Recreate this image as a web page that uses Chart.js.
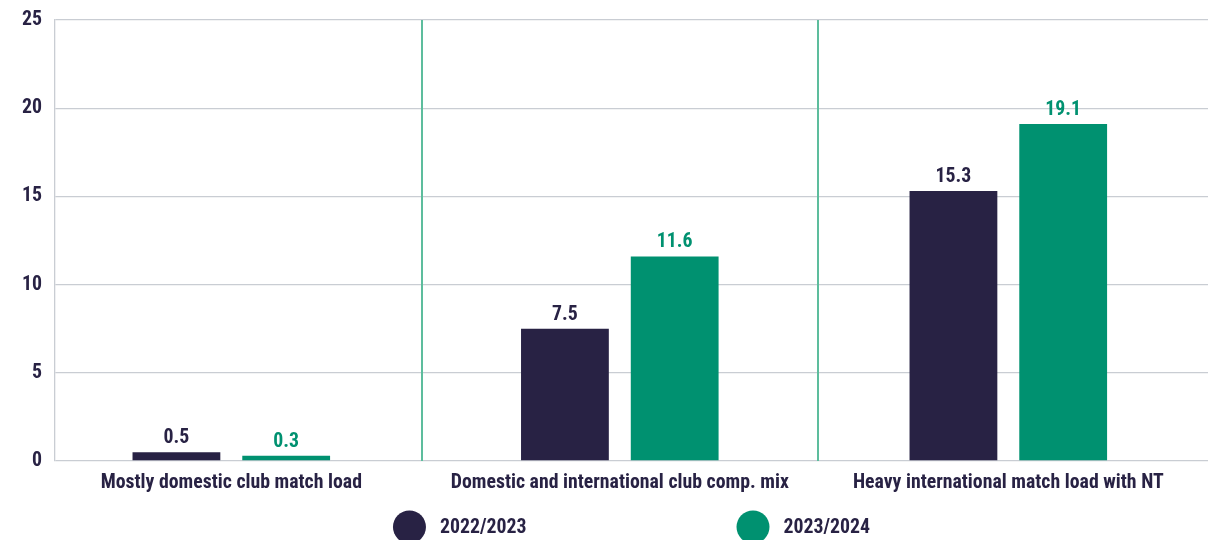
<!DOCTYPE html>
<html>
<head>
<meta charset="utf-8">
<script src="https://cdn.jsdelivr.net/npm/chart.js@4.4.1/dist/chart.umd.min.js"></script>
<style>
  html, body { margin: 0; padding: 0; background: #ffffff; }
  #wrap { width: 1208px; height: 540px; position: relative; }
</style>
</head>
<body>
<div id="wrap"><canvas id="chart"></canvas></div>
<script>
// Match-load profiles and average values per season
const categories = [
  'Mostly domestic club match load',
  'Domestic and international club comp. mix',
  'Heavy international match load with NT'
];
const seasons = ['2022/2023', '2023/2024'];
const values2022 = [0.5, 7.5, 15.3];
const values2023 = [0.3, 11.6, 19.1];
const yTicks = [0, 5, 10, 15, 20, 25];

const NAVY = '#282244';
const GREEN = '#009170';
const DIVIDER = '#5dbd9d';
const GRID = '#c9cdd3';
const FONT = "'Roboto Condensed', 'Open Sans Condensed', 'DejaVu Sans Condensed', sans-serif";
const FSIZE = 19.8;

// Value labels above each bar, coloured like their series
const valueLabels = {
  id: 'valueLabels',
  afterDatasetsDraw(chart) {
    const ctx = chart.ctx;
    ctx.save();
    ctx.font = 'bold ' + FSIZE + 'px ' + FONT;
    ctx.textAlign = 'center';
    ctx.textBaseline = 'alphabetic';
    chart.data.datasets.forEach((ds, di) => {
      const meta = chart.getDatasetMeta(di);
      ctx.fillStyle = ds.labelColor;
      meta.data.forEach((bar, i) => {
        ctx.fillText(ds.data[i].y.toFixed(1), bar.x, bar.y - 9);
      });
    });
    ctx.restore();
  }
};

// Thin vertical rules separating the three groups
const groupDividers = {
  id: 'groupDividers',
  beforeDatasetsDraw(chart, args, opts) {
    const { ctx, chartArea, scales } = chart;
    ctx.save();
    ctx.strokeStyle = DIVIDER;
    ctx.lineWidth = 2;
    opts.at.forEach(v => {
      const x = Math.round(scales.x.getPixelForValue(v));
      ctx.beginPath();
      ctx.moveTo(x, chartArea.top);
      ctx.lineTo(x, chartArea.bottom);
      ctx.stroke();
    });
    ctx.restore();
  }
};

// Centered legend with round markers below the axis labels
const roundLegend = {
  id: 'roundLegend',
  afterDraw(chart) {
    const { ctx, chartArea } = chart;
    const r = 16.5, gapText = 14, gapItems = 210;
    ctx.save();
    ctx.font = 'bold ' + FSIZE + 'px ' + FONT;
    ctx.textBaseline = 'middle';
    ctx.textAlign = 'left';
    const items = chart.data.datasets.map(ds => ({
      text: ds.label, color: ds.backgroundColor, w: ctx.measureText(ds.label).width
    }));
    const total = items.reduce((s, it) => s + 2 * r + gapText + it.w, 0) + gapItems * (items.length - 1);
    let x = (chartArea.left + chartArea.right) / 2 - total / 2;
    const y = 527;
    items.forEach(it => {
      ctx.fillStyle = it.color;
      ctx.beginPath();
      ctx.arc(x + r, y, r, 0, Math.PI * 2);
      ctx.fill();
      ctx.fillStyle = NAVY;
      ctx.fillText(it.text, x + 2 * r + gapText, y + 1);
      x += 2 * r + gapText + it.w + gapItems;
    });
    ctx.restore();
  }
};

const toPoints = arr => arr.map((v, i) => ({ x: i, y: v }));

new Chart(document.getElementById('chart'), {
  type: 'bar',
  data: {
    datasets: [
      { label: seasons[0], data: toPoints(values2022), backgroundColor: NAVY, labelColor: NAVY },
      { label: seasons[1], data: toPoints(values2023), backgroundColor: GREEN, labelColor: GREEN }
    ]
  },
  plugins: [groupDividers, valueLabels, roundLegend],
  options: {
    responsive: true,
    maintainAspectRatio: false,
    animation: false,
    devicePixelRatio: 1,
    categoryPercentage: 0.565,
    barPercentage: 0.8,
    layout: { padding: { top: 20, left: 0, right: 0, bottom: 0 } },
    plugins: {
      legend: { display: false },
      tooltip: { enabled: false },
      groupDividers: { at: [0.49, 1.51] }
    },
    scales: {
      x: {
        type: 'linear',
        offset: false,
        min: -0.4538,
        max: 2.514,
        grid: { display: false, drawTicks: false },
        border: { display: false },
        afterBuildTicks: s => { s.ticks = categories.map((_, i) => ({ value: i })); },
        afterFit: s => { s.height = 79; s.paddingLeft = 0; s.paddingRight = 0; },
        ticks: {
          autoSkip: false,
          maxRotation: 0,
          padding: 10,
          color: NAVY,
          font: { family: FONT, size: FSIZE, weight: 'bold' },
          callback: v => categories[v] ?? ''
        }
      },
      y: {
        min: 0,
        max: 25,
        afterBuildTicks: s => { s.ticks = yTicks.map(v => ({ value: v })); },
        afterFit: s => { s.width = 55; s.paddingTop = 12; s.paddingBottom = 0; },
        grid: { color: GRID, lineWidth: 1.3, drawTicks: false },
        border: { display: true, color: GRID, width: 1.3 },
        ticks: {
          padding: 13,
          color: NAVY,
          font: { family: FONT, size: FSIZE, weight: 'bold' }
        }
      }
    }
  }
});
</script>
</body>
</html>
